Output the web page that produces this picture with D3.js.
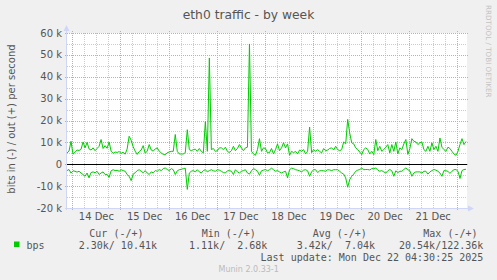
<!DOCTYPE html>
<html lang="en">
<head>
    <meta charset="utf-8">
    <title>eth0 traffic - by week</title>
    <style>
        html, body { margin: 0; padding: 0; background: #f0f0f0; }
        svg { display: block; }
        text { font-family: "DejaVu Sans", sans-serif; fill: #555; }
        .mono { font-family: "DejaVu Sans Mono", monospace; font-size: 10px; white-space: pre; }
    </style>
</head>
<body>
    <div id="container"></div>

    <script src="https://cdn.jsdelivr.net/npm/d3@7"></script>
    <script>
        // Samples are one per hour, values in k bits per second
        const startTime = new Date(2025, 11, 13, 21, 20);
        const endTime = new Date(2025, 11, 22, 4, 50);

        const outValues = [
            5.2, 6.0, 10.5, 4.6, 5.5, 6.5, 6.3, 6.8, 10.2, 7.5,
            10.0, 7.0, 6.5, 7.5, 6.2, 7.2, 8.2, 11.3, 7.2, 8.5,
            7.3, 10.2, 6.0, 5.0, 5.6, 5.4, 5.8, 5.0, 5.5, 4.6,
            7.0, 12.8, 11.0, 8.0, 6.0, 4.5, 5.8, 6.5, 8.5, 5.0,
            6.0, 9.0, 6.5, 6.0, 7.0, 7.5, 6.0, 5.2, 4.5, 4.3,
            5.3, 5.6, 5.9, 5.9, 13.6, 5.9, 4.7, 4.7, 4.7, 5.3,
            15.8, 6.7, 6.2, 6.7, 6.9, 5.9, 7.2, 5.9, 5.2, 19.5,
            5.9, 48.6, 6.7, 7.2, 5.9, 6.2, 7.5, 7.5, 6.7, 7.8,
            5.9, 5.3, 6.2, 8.2, 6.2, 7.2, 9.0, 7.5, 6.2, 7.5,
            7.8, 55.0, 5.9, 4.7, 4.1, 6.7, 11.7, 5.9, 7.5, 7.2,
            5.2, 5.3, 7.2, 4.7, 6.7, 9.3, 6.2, 7.5, 9.8, 7.5,
            9.3, 4.1, 5.9, 5.3, 5.9, 4.7, 6.5, 5.9, 6.7, 4.7,
            5.9, 17.0, 5.3, 6.7, 5.9, 6.7, 5.9, 5.2, 7.2, 6.2,
            6.5, 7.2, 7.5, 6.5, 8.2, 6.7, 6.2, 6.7, 10.2, 9.3,
            20.5, 14.3, 9.8, 9.3, 7.5, 6.7, 5.6, 4.4, 6.7, 7.5,
            6.7, 4.7, 5.9, 4.4, 11.3, 6.2, 8.2, 5.9, 6.7, 7.8,
            9.0, 5.2, 9.0, 5.9, 10.2, 4.7, 7.5, 6.7, 9.3, 11.3,
            4.5, 7.2, 11.7, 10.5, 10.2, 9.0, 9.8, 10.2, 6.7, 5.9,
            8.2, 5.9, 9.8, 6.7, 8.2, 5.9, 12.0, 7.8, 6.7, 5.9,
            7.8, 7.2, 5.9, 4.7, 4.1, 5.9, 9.0, 11.7, 9.0, 10.4
        ];

        // inbound traffic, drawn below zero
        const inValues = [
            2.9, 2.4, 4.0, 3.0, 3.2, 3.6, 3.2, 4.0, 4.7, 5.5,
            4.0, 6.2, 3.8, 3.5, 3.9, 3.2, 4.7, 4.0, 3.5, 4.7,
            4.6, 6.0, 3.0, 2.5, 2.9, 2.8, 3.2, 2.5, 2.9, 3.2,
            4.7, 5.5, 7.5, 4.5, 3.9, 2.9, 2.5, 3.2, 3.9, 2.9,
            4.0, 4.7, 3.5, 3.9, 2.9, 3.2, 2.4, 2.9, 2.0, 1.7,
            2.4, 2.9, 2.0, 2.5, 4.7, 3.0, 2.5, 2.3, 2.0, 1.8,
            11.5, 4.0, 3.2, 2.9, 3.5, 2.5, 3.5, 4.0, 2.9, 2.5,
            3.5, 2.9, 2.5, 3.0, 3.2, 2.5, 2.7, 3.2, 3.8, 4.0,
            3.0, 2.9, 3.2, 4.7, 2.5, 3.5, 4.0, 3.2, 2.9, 2.5,
            4.0, 4.5, 3.0, 2.0, 2.5, 3.2, 5.0, 3.0, 2.7, 2.4,
            3.0, 2.5, 1.8, 2.5, 3.2, 2.9, 3.5, 4.0, 3.5, 3.2,
            6.2, 2.5, 1.8, 2.0, 2.5, 2.7, 3.0, 3.5, 2.7, 2.5,
            3.0, 5.5, 3.5, 2.5, 2.5, 3.8, 3.0, 2.9, 3.0, 3.2,
            2.5, 2.6, 2.9, 2.5, 2.5, 2.5, 3.2, 4.0, 4.5, 6.2,
            10.5, 7.0, 5.5, 4.5, 3.2, 2.7, 2.4, 1.8, 2.5, 2.4,
            2.4, 2.6, 2.0, 2.0, 1.7, 2.7, 3.2, 2.9, 3.5, 4.0,
            3.0, 2.4, 3.0, 5.5, 3.0, 3.8, 3.2, 3.2, 2.4, 1.7,
            2.5, 3.0, 5.5, 4.0, 3.5, 3.5, 3.5, 4.0, 3.2, 3.2,
            4.5, 3.5, 2.9, 2.4, 2.7, 3.2, 4.0, 5.5, 2.9, 3.0,
            3.2, 4.2, 3.2, 2.5, 2.4, 3.2, 6.5, 2.9, 2.4, 2.3
        ];

        const yTicks = [-20, -10, 0, 10, 20, 30, 40, 50, 60];
        const yTickLabels = ["-20 k", "-10 k", "0", "10 k", "20 k", "30 k", "40 k", "50 k", "60 k"];
        const dayNumbers = [14, 15, 16, 17, 18, 19, 20, 21];
        const dayLabels = ["14 Dec", "15 Dec", "16 Dec", "17 Dec", "18 Dec", "19 Dec", "20 Dec", "21 Dec"];

        const legendHeaders = ["Cur (-/+)", "Min (-/+)", "Avg (-/+)", "Max (-/+)"];
        const legendValues = ["  2.30k/ 10.41k", "  1.11k/  2.68k", "  3.42k/  7.04k", " 20.54k/122.36k"];

        // Chart dimensions
        const width = 497;
        const height = 280;
        const plotLeft = 67;
        const plotRight = 467;
        const plotTop = 33;
        const plotBottom = 208;

        const svg = d3.select("#container").append("svg")
            .attr("width", width)
            .attr("height", height);

        svg.append("rect")
            .attr("width", width).attr("height", height)
            .attr("fill", "#f0f0f0");

        const x = d3.scaleTime()
            .domain([startTime, endTime])
            .range([plotLeft, plotRight]);

        const y = d3.scaleLinear()
            .domain([-20, 60])
            .range([plotBottom, plotTop]);

        const crisp = v => Math.round(v) + 0.5;

        // White canvas
        svg.append("rect")
            .attr("x", plotLeft).attr("y", plotTop)
            .attr("width", plotRight - plotLeft)
            .attr("height", plotBottom - plotTop)
            .attr("fill", "#ffffff");

        const grid = svg.append("g").attr("shape-rendering", "crispEdges");

        // minor grid, every 5 k and every 6 hours
        const minorY = y.ticks(16).filter(v => v % 10 !== 0);
        grid.selectAll(".minor-h")
            .data(minorY)
            .enter().append("line")
            .attr("x1", plotLeft).attr("x2", plotRight)
            .attr("y1", d => crisp(y(d))).attr("y2", d => crisp(y(d)))
            .attr("stroke", "#cccccc")
            .attr("stroke-dasharray", "1,1");

        const minorX = d3.timeHour.every(6).range(startTime, endTime).filter(d => d.getHours() !== 0);
        grid.selectAll(".minor-v")
            .data(minorX)
            .enter().append("line")
            .attr("x1", d => crisp(x(d))).attr("x2", d => crisp(x(d)))
            .attr("y1", plotTop).attr("y2", plotBottom)
            .attr("stroke", "#cccccc")
            .attr("stroke-dasharray", "1,1");

        // major grid
        grid.selectAll(".major-h")
            .data(yTicks)
            .enter().append("line")
            .attr("x1", plotLeft - 2).attr("x2", plotRight + 2)
            .attr("y1", d => crisp(y(d))).attr("y2", d => crisp(y(d)))
            .attr("stroke", "#f09a9a")
            .attr("stroke-dasharray", "1,1");

        const midnights = d3.timeDay.range(startTime, endTime);
        grid.selectAll(".major-v")
            .data(midnights)
            .enter().append("line")
            .attr("x1", d => crisp(x(d))).attr("x2", d => crisp(x(d)))
            .attr("y1", plotTop - 2).attr("y2", plotBottom + 2)
            .attr("stroke", "#f09a9a")
            .attr("stroke-dasharray", "1,1");

        // Y tick labels
        svg.selectAll(".ylabel")
            .data(yTicks)
            .enter().append("text")
            .attr("x", 62)
            .attr("y", d => y(d) + 3.5)
            .attr("text-anchor", "end")
            .attr("font-size", 10)
            .text((d, i) => yTickLabels[i]);

        // X labels at noon
        svg.selectAll(".xlabel")
            .data(dayNumbers)
            .enter().append("text")
            .attr("x", d => x(new Date(2025, 11, d, 12)))
            .attr("y", 219.5)
            .attr("text-anchor", "middle")
            .attr("font-size", 10)
            .text((d, i) => dayLabels[i]);

        // Data lines
        const timeAt = i => new Date(startTime.getTime() + i * 3600e3);
        const line = d3.line()
            .x((d, i) => x(timeAt(i)))
            .y(d => y(d));

        svg.append("path")
            .datum(outValues)
            .attr("d", line)
            .attr("fill", "none")
            .attr("stroke", "#00cc00")
            .attr("stroke-width", 1);

        svg.append("path")
            .datum(inValues.map(v => -v))
            .attr("d", line)
            .attr("fill", "none")
            .attr("stroke", "#00cc00")
            .attr("stroke-width", 1);

        // zero line
        svg.append("line")
            .attr("x1", plotLeft).attr("x2", plotRight)
            .attr("y1", crisp(y(0))).attr("y2", crisp(y(0)))
            .attr("stroke", "#000000")
            .attr("shape-rendering", "crispEdges");

        // Axes with arrows
        const axisColor = "#cfd6f8";
        svg.append("line")
            .attr("x1", plotLeft - 0.5).attr("x2", plotLeft - 0.5)
            .attr("y1", plotBottom + 2).attr("y2", plotTop - 4)
            .attr("stroke", axisColor);
        svg.append("path")
            .attr("d", `M${plotLeft - 3.5},${plotTop - 2} L${plotLeft - 0.5},${plotTop - 8} L${plotLeft + 2.5},${plotTop - 2} Z`)
            .attr("fill", axisColor);
        svg.append("line")
            .attr("x1", plotLeft - 2).attr("x2", plotRight + 3)
            .attr("y1", plotBottom + 0.5).attr("y2", plotBottom + 0.5)
            .attr("stroke", axisColor);
        svg.append("path")
            .attr("d", `M${plotRight + 1},${plotBottom - 2.5} L${plotRight + 7},${plotBottom + 0.5} L${plotRight + 1},${plotBottom + 3.5} Z`)
            .attr("fill", axisColor);

        // Title
        svg.append("text")
            .attr("x", 248.5)
            .attr("y", 18.5)
            .attr("text-anchor", "middle")
            .attr("font-size", 12.3)
            .text("eth0 traffic - by week");

        // Vertical y label
        svg.append("text")
            .attr("transform", "translate(15,119) rotate(-90)")
            .attr("text-anchor", "middle")
            .attr("font-size", 10)
            .text("bits in (-) / out (+) per second");

        // RRDtool watermark
        svg.append("text")
            .attr("transform", "translate(486,5) rotate(90)")
            .attr("font-size", 7.2)
            .style("fill", "#c4c4c4")
            .text("RRDTOOL / TOBI OETIKER");

        // Legend
        svg.append("rect")
            .attr("x", 14).attr("y", 241.5)
            .attr("width", 5.5).attr("height", 5.5)
            .attr("fill", "#00cc00");

        svg.append("text")
            .attr("class", "mono")
            .attr("x", 26.5).attr("y", 248.7)
            .text("bps");

        const headerX = [89.3, 201.7, 312.7, 423.3];
        const valueEndX = [157, 267.3, 375, 483.3];

        svg.selectAll(".lhead")
            .data(legendHeaders)
            .enter().append("text")
            .attr("class", "mono")
            .attr("x", (d, i) => headerX[i])
            .attr("y", 236.7)
            .text(d => d);

        svg.selectAll(".lval")
            .data(legendValues)
            .enter().append("text")
            .attr("class", "mono")
            .attr("x", (d, i) => valueEndX[i])
            .attr("y", 248.7)
            .attr("text-anchor", "end")
            .text(d => d);

        svg.append("text")
            .attr("class", "mono")
            .attr("x", 483.3).attr("y", 260.7)
            .attr("text-anchor", "end")
            .text("Last update: Mon Dec 22 04:30:25 2025");

        svg.append("text")
            .attr("x", 248.7).attr("y", 271.7)
            .attr("text-anchor", "middle")
            .attr("font-size", 8)
            .style("fill", "#bbbbbb")
            .text("Munin 2.0.33-1");
    </script>
</body>
</html>
